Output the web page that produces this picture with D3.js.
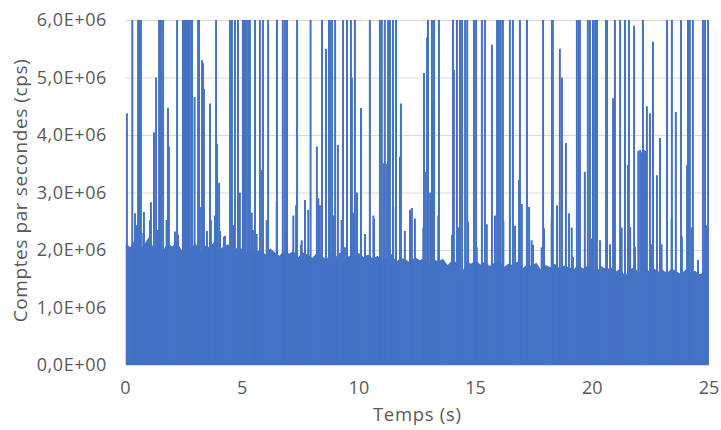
<!DOCTYPE html>
<html>
<head>
<meta charset="utf-8">
<script src="https://cdn.jsdelivr.net/npm/d3@7"></script>
<style>
  html, body { margin: 0; padding: 0; background: #ffffff; }
  svg text { font-family: "Open Sans", "Liberation Sans", sans-serif; fill: #595959; }
</style>
</head>
<body>
<svg id="chart" width="721" height="430"></svg>
<script>
// Count rate (millions of counts per second) sampled every 0.2 s: top of the dense band
const bandStep = 0.2;
const bandTop = [
  2.12,2.05,2.18,2.00,2.10,2.22,2.04,2.10,1.98,2.12,2.06,2.15,2.00,2.08,2.02,2.12,1.96,2.08,2.05,2.14,2.00,2.06,2.10,1.98,2.05,
  2.02,1.95,2.05,1.98,2.00,1.92,2.03,1.96,1.90,2.00,1.94,1.98,1.88,1.96,1.92,1.86,1.95,1.90,1.84,1.93,1.88,1.96,1.85,1.90,1.87,
  1.95,1.88,1.92,1.85,1.90,1.82,1.88,1.93,1.80,1.86,1.84,1.78,1.88,1.82,1.86,1.76,1.84,1.80,1.85,1.74,1.82,1.78,1.58,1.80,1.76,
  1.82,1.75,1.80,1.72,1.78,1.82,1.70,1.76,1.74,1.80,1.68,1.75,1.72,1.78,1.66,1.74,1.70,1.76,1.68,1.73,1.70,1.66,1.75,1.68,1.72,
  1.70,1.64,1.72,1.66,1.70,1.62,1.68,1.55,1.66,1.70,1.60,1.68,1.64,1.70,1.62,1.66,1.60,1.68,1.63,1.58,1.66,1.60,1.64,1.58,1.62,
  2.40
];

// Bursts that saturate the scale (time in s)
const saturatedTimes = [
  0.29,0.54,0.62,0.66,1.44,1.48,1.52,1.61,2.21,
  2.46,2.51,2.55,2.59,2.63,2.68,2.72,2.76,2.85,3.11,3.15,3.88,
  4.48,4.56,4.69,4.82,5.03,5.08,5.16,5.25,5.33,5.55,5.76,5.89,6.11,
  6.49,6.74,6.83,6.92,7.35,7.93,8.42,8.72,8.76,8.85,8.98,9.32,9.49,9.66,9.83,
  10.47,10.90,10.98,11.11,11.25,11.33,11.46,11.59,12.96,13.13,13.22,13.43,
  14.03,14.20,14.33,14.42,14.55,14.64,14.93,15.02,15.27,15.40,15.92,16.00,16.08,16.17,
  16.47,16.60,16.90,17.20,17.89,18.27,18.31,19.34,19.43,19.47,19.81,19.90,
  20.03,20.12,20.20,20.59,20.63,20.97,21.19,21.40,21.57,22.17,23.20,23.41,23.80,
  24.10,24.18,24.31,24.74,24.83,24.96
];

// Other bursts: time (s) and peak rate (millions of cps)
const burstTimes = [
  0.06,0.41,0.49,0.76,0.79,1.05,1.09,1.22,1.31,1.39,1.76,1.82,1.86,2.12,2.25,2.96,
  3.19,3.28,3.32,3.36,3.49,3.62,3.66,3.83,3.92,4.01,4.05,4.22,4.26,4.61,4.90,
  5.12,5.41,5.46,5.62,5.85,6.05,6.48,6.90,7.19,7.31,7.52,7.55,7.69,7.83,
  8.20,8.26,8.33,8.59,8.90,9.10,9.26,9.40,9.70,9.76,9.92,10.09,10.26,10.62,10.65,
  11.05,11.18,11.47,11.76,11.80,11.97,12.19,12.27,12.40,12.76,12.79,12.83,12.92,
  13.05,13.17,13.40,13.99,14.07,14.26,14.68,15.05,15.48,15.70,15.83,16.19,16.69,
  16.86,16.98,17.29,17.40,17.46,17.83,17.93,18.26,18.49,18.61,18.70,18.87,
  19.00,19.12,19.17,19.68,19.97,20.33,20.76,20.89,21.26,
  21.53,21.62,21.79,21.83,21.97,22.05,22.13,22.22,22.30,22.34,22.47,22.55,22.60,22.77,22.90,22.97,
  23.40,23.58,23.84,24.06,24.26,24.53,24.91
];
const burstPeaks = [
  4.38,2.64,2.43,2.30,2.66,2.52,2.83,4.05,5.00,2.35,2.52,4.47,3.80,2.32,2.26,4.66,
  2.75,5.30,5.25,4.80,2.33,4.55,2.52,2.60,3.85,3.17,2.33,2.23,2.25,2.43,3.00,
  3.27,2.65,2.35,2.28,3.39,2.52,2.84,2.42,2.60,2.78,2.09,2.17,2.87,2.70,
  3.80,2.90,2.78,5.50,2.60,3.83,2.52,2.05,5.00,2.65,3.00,4.47,2.28,2.60,2.55,
  3.51,3.50,2.75,3.62,4.55,2.33,2.70,2.73,2.55,2.39,5.08,3.36,5.70,
  3.00,4.60,2.60,2.26,5.13,2.39,2.49,2.05,2.45,5.57,2.60,2.50,2.42,
  3.22,2.80,2.75,2.17,2.09,2.05,2.38,2.50,2.78,5.50,5.00,3.86,
  2.64,2.39,1.88,3.36,2.20,2.17,2.10,4.64,2.39,
  3.48,2.40,5.90,2.05,3.72,3.74,3.70,3.74,3.72,4.50,4.38,2.10,5.62,3.30,3.95,2.10,
  2.55,4.40,2.23,3.48,2.39,1.83,2.43
];

const yTicks = [0, 1, 2, 3, 4, 5, 6];
const xTicks = [0, 5, 10, 15, 20, 25];
const saturatedLevel = 6.5;

const svg = d3.select("#chart");
const blue = "#4472C4";

const x = d3.scaleLinear().domain([0, 25]).range([125.5, 709]);
const y = d3.scaleLinear().domain([0, 6]).range([365, 20]);

svg.append("defs").append("clipPath").attr("id", "plotClip")
  .append("rect")
  .attr("x", x(0)).attr("y", y(6))
  .attr("width", x(25) - x(0)).attr("height", y(0) - y(6));

// Horizontal gridlines
svg.append("g")
  .selectAll("line")
  .data(yTicks)
  .join("line")
  .attr("x1", x(0)).attr("x2", x(25))
  .attr("y1", d => y(d) + 0.5).attr("y2", d => y(d) + 0.5)
  .attr("stroke", "#D9D9D9").attr("stroke-width", 1);

const plot = svg.append("g").attr("clip-path", "url(#plotClip)");

// Dense band
const band = bandTop.map((v, i) => ({ t: i * bandStep, v }));
plot.append("path")
  .datum(band)
  .attr("d", d3.area().x(d => x(d.t)).y0(y(0)).y1(d => y(d.v)))
  .attr("fill", blue);

// Bursts
const bursts = saturatedTimes.map(t => ({ t, v: saturatedLevel }))
  .concat(burstTimes.map((t, i) => ({ t, v: burstPeaks[i] })));

plot.append("g")
  .selectAll("line")
  .data(bursts)
  .join("line")
  .attr("x1", d => x(d.t)).attr("x2", d => x(d.t))
  .attr("y1", y(0)).attr("y2", d => y(d.v))
  .attr("stroke", blue).attr("stroke-width", 2);

// Y axis labels
const fmtY = v => v.toFixed(1).replace(".", ",") + (v === 0 ? "E+00" : "E+06");
svg.append("g")
  .selectAll("text")
  .data(yTicks)
  .join("text")
  .attr("x", 107).attr("y", d => y(d))
  .attr("dy", "0.36em")
  .attr("text-anchor", "end")
  .attr("font-size", 18)
  .attr("letter-spacing", "0.6px")
  .text(d => fmtY(d));

// X axis labels
svg.append("g")
  .selectAll("text")
  .data(xTicks)
  .join("text")
  .attr("x", d => x(d)).attr("y", 388)
  .attr("dy", "0.36em")
  .attr("text-anchor", "middle")
  .attr("font-size", 18)
  .text(d => d);

// Axis titles
svg.append("text")
  .attr("x", (x(0) + x(25)) / 2).attr("y", 414)
  .attr("dy", "0.36em")
  .attr("text-anchor", "middle")
  .attr("font-size", 18.5)
  .attr("letter-spacing", "0.7px")
  .text("Temps (s)");

svg.append("text")
  .attr("transform", `translate(20, ${(y(0) + y(6)) / 2 - 2}) rotate(-90)`)
  .attr("dy", "0.36em")
  .attr("text-anchor", "middle")
  .attr("font-size", 19)
  .attr("letter-spacing", "0.6px")
  .text("Comptes par secondes (cps)");
</script>
</body>
</html>
